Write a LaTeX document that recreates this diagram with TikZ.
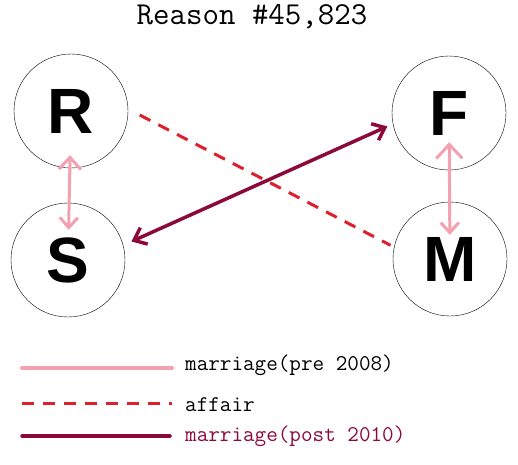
\documentclass[tikz,border=0pt]{standalone}
\usepackage{fontspec}
\usepackage{tikz}
\usetikzlibrary{arrows.meta,positioning}
\newfontfamily\letterfont{Liberation Sans}[BoldFont={* Bold}]
\definecolor{pinkish}{RGB}{243,160,176}
\definecolor{affairred}{RGB}{222,32,44}
\definecolor{maroon}{RGB}{140,10,58}

\tikzset{
  person/.style={draw, circle, thin, minimum size=114pt, inner sep=0pt, font=\letterfont\bfseries\fontsize{64}{64}\selectfont},
  pre/.style={draw=pinkish, line width=3pt},
  affair/.style={draw=affairred, line width=3pt, dash pattern=on 12pt off 9pt},
  post/.style={draw=maroon, line width=3.5pt},
  legendtext/.style={anchor=west, inner sep=0pt, font=\ttfamily\fontsize{22.5}{22.5}\selectfont}
}

\begin{document}
\begin{tikzpicture}[x=1pt,y=-1pt]
  \useasboundingbox (0,0) rectangle (518,464);
  \node (title) at (252,17) {\ttfamily\fontsize{32}{32}\selectfont Reason \#45,823};
  % the four people
  \node[person] (R) at (71,111) {R};
  \node[person] (S) at (68,260) {S};
  \node[person] (F) at (449,113) {F};
  \node[person] (M) at (450,259) {M};
  % connectors
  \draw[pre, {Straight Barb[length=12pt,width=22pt]}-{Straight Barb[length=10pt,width=18pt]}, shorten <=-13pt, shorten >=-27pt] (R) -- (S);
  \draw[pre, {Straight Barb[length=14pt,width=26pt]}-{Straight Barb[length=10pt,width=18pt]}, shorten <=-28pt, shorten >=-33pt] (F) -- (M);
  \draw[affair, shorten <=13pt, shorten >=4pt] (R.2) -- (M.168);
  \draw[post, {Straight Barb[length=11pt,width=18pt]}-{Straight Barb[length=11pt,width=18pt]}, shorten <=9pt, shorten >=6pt] (S.15) -- (F.191);
  % legend
  \coordinate (l1a) at (22,368); \coordinate (l1b) at (172,368);
  \coordinate (l2a) at (22,403); \coordinate (l2b) at (172,403);
  \coordinate (l3a) at (22,436); \coordinate (l3b) at (170,436);
  \draw[pre, line width=4pt, line cap=round] (l1a) -- (l1b);
  \draw[affair] (l2a) -- (l2b);
  \draw[post, line cap=round] (l3a) -- (l3b);
  \node[legendtext] (pretext) at (185,365) {marriage(pre 2008)};
  \node[legendtext] (affairtext) at (185,405) {affair};
  \node[legendtext, text=maroon] (posttext) at (185,436) {marriage(post 2010)};
\end{tikzpicture}
\end{document}
